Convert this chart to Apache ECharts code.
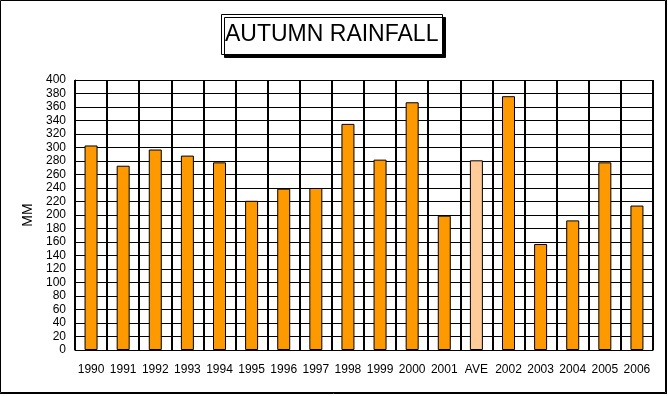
<!DOCTYPE html>
<html>
<head>
<meta charset="utf-8">
<script src="https://cdn.jsdelivr.net/npm/echarts@6/dist/echarts.min.js"></script>
<style>
html,body{margin:0;padding:0;background:#fff;}
#rainChart{width:668px;height:396px;}
</style>
</head>
<body>
<div id="rainChart"></div>
<script>
//数据
var years = ['1990','1991','1992','1993','1994','1995','1996','1997','1998','1999','2000','2001','AVE','2002','2003','2004','2005','2006'];
var rainfall = [303,273,297,288,278,221,239,240,335,282,367,199,281,376,157,192,278,214];
var avgLabel = 'AVE';
var yTicks = {min:0, max:400, interval:20};

var barData = [];
for(var i=0;i<years.length;i++){
	var item = {value:rainfall[i]};
	if(years[i] == avgLabel){
		item.itemStyle = {color:'#FFCC99'};
	}
	barData.push(item);
}

var font = '"Liberation Sans", Arial, sans-serif';

var option = {
	animation:false,
	backgroundColor:'#fff',
	title:{
		text:'AUTUMN RAINFALL',
		left:221,
		top:14,
		padding:[9,4,9,4],
		borderColor:'#000',
		borderWidth:1,
		backgroundColor:'#fff',
		shadowColor:'#000',
		shadowOffsetX:3,
		shadowOffsetY:3,
		shadowBlur:0,
		textStyle:{
			fontFamily:font,
			fontSize:23,
			fontWeight:'normal',
			color:'#000'
		}
	},
	graphic:[{
		type:'rect',
		silent:true,
		shape:{x:0.5,y:0.5,width:665,height:392},
		style:{fill:null,stroke:'#000',lineWidth:1}
	},{
		type:'line',
		silent:true,
		shape:{x1:666.5,y1:0,x2:666.5,y2:394},
		style:{stroke:'#000',lineWidth:1}
	},{
		type:'line',
		silent:true,
		shape:{x1:0,y1:393.5,x2:667,y2:393.5},
		style:{stroke:'#000',lineWidth:1}
	}],
	grid:{
		left:75,
		top:80,
		right:15,
		bottom:46
	},
	xAxis:{
		type:'category',
		data:years,
		axisLine:{lineStyle:{color:'#000',width:1}},
		axisTick:{show:true,inside:true,alignWithLabel:true,length:3,lineStyle:{color:'#000'}},
		axisLabel:{color:'#000',fontFamily:font,fontSize:12,margin:14,interval:0},
		splitLine:{show:true,interval:0,lineStyle:{color:'#000',width:2}}
	},
	yAxis:{
		type:'value',
		min:yTicks.min,
		max:yTicks.max,
		interval:yTicks.interval,
		name:'MM',
		nameLocation:'middle',
		nameGap:38,
		nameTextStyle:{color:'#000',fontFamily:font,fontSize:14},
		axisLine:{show:true,lineStyle:{color:'#000',width:1}},
		axisTick:{show:false},
		axisLabel:{color:'#000',fontFamily:font,fontSize:12,margin:9},
		splitLine:{show:true,lineStyle:{color:'#000',width:1}}
	},
	series:[{
		name:'MM',
		type:'bar',
		data:barData,
		barWidth:13,
		itemStyle:{
			color:'#FF9900',
			borderColor:'#000',
			borderWidth:1
		}
	}]
};

var rainChart = echarts.init(document.getElementById('rainChart'));
rainChart.setOption(option);
</script>
</body>
</html>
